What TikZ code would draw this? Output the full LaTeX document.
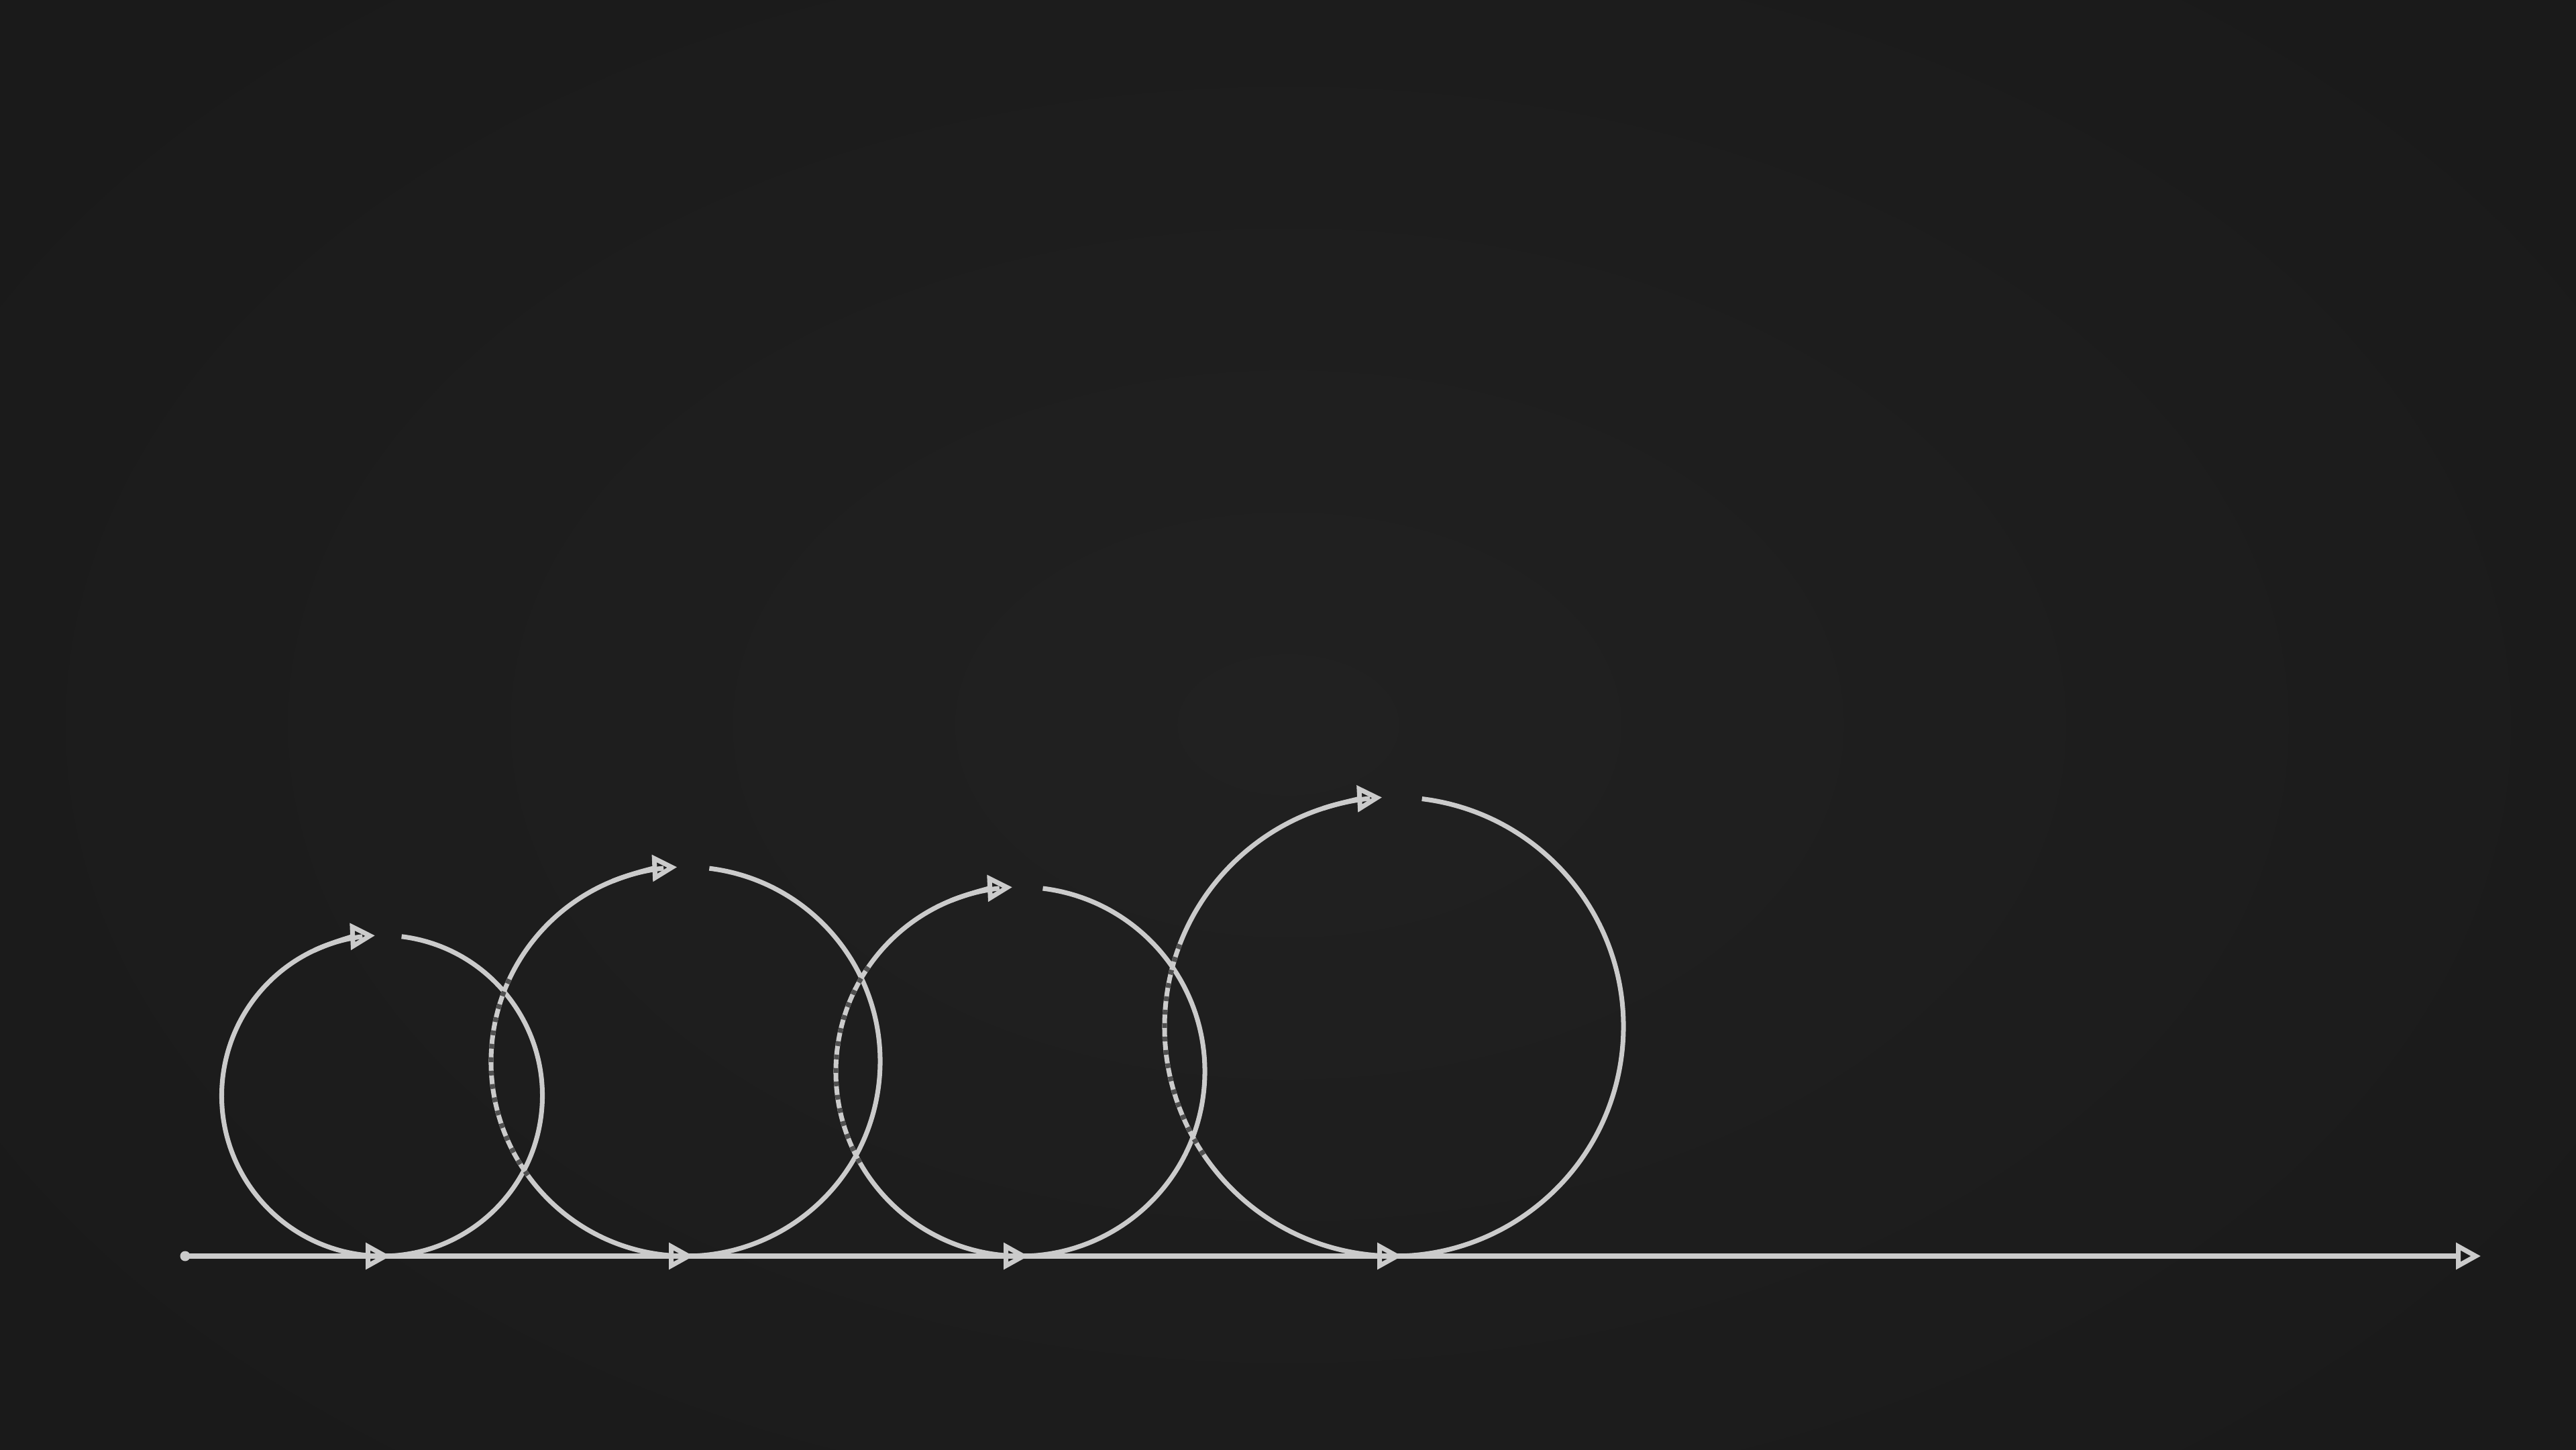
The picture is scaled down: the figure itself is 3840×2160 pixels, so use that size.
\documentclass[tikz,border=0pt]{standalone}
\usetikzlibrary{arrows.meta}
\definecolor{bgc}{HTML}{1D1D1D}
\definecolor{bgin}{HTML}{212121}
\definecolor{bgout}{HTML}{1A1A1A}
\definecolor{linec}{HTML}{CBCBCB}
\definecolor{dashc}{HTML}{505050}
\begin{document}
\begin{tikzpicture}[x=0.01cm,y=0.01cm,
  ring/.style={draw=linec, line width=2pt},
  tipstyle/.style={draw=linec, line width=2pt, -{Triangle[open,length=10.5pt,width=11pt]}},
  dashover/.style={draw=dashc, line width=2pt, dash pattern=on 2pt off 3.7pt},
]
\useasboundingbox (0,0) rectangle (3840,2160);
\fill[bgc] (0,0) rectangle (3840,2160);
\shade[inner color=bgin, outer color=bgout] (-400,-400) rectangle (4240,2560);

% centres
\coordinate (o1) at (569.5,527);
\coordinate (o2) at (1022,578);
\coordinate (o3) at (1521,563);
\coordinate (o4) at (2078,630);

% baseline
\coordinate (s) at (276,288);
\coordinate (e) at (3698,288);
\coordinate (t1) at (582,288);
\coordinate (t2) at (1034,288);
\coordinate (t3) at (1533,288);
\coordinate (t4) at (2090,288);
\coordinate (b1) at (530,288);
\coordinate (b2) at (982,288);
\coordinate (b3) at (1481,288);
\coordinate (b4) at (2038,288);

% circles
\draw[ring] (o1) ++(83:239) arc[start angle=83, end angle=-263, radius=239];
\draw[tipstyle] (o1) ++(-245:239) arc[start angle=-245, end angle=-267.5, radius=239];

\draw[ring] (o2) ++(83:290) arc[start angle=83, end angle=-263.5, radius=290];
\draw[tipstyle] (o2) ++(-248:290) arc[start angle=-248, end angle=-267.5, radius=290];

\draw[ring] (o3) ++(83:275) arc[start angle=83, end angle=-263.5, radius=275];
\draw[tipstyle] (o3) ++(-248:275) arc[start angle=-248, end angle=-267.5, radius=275];

\draw[ring] (o4) ++(83:342) arc[start angle=83, end angle=-264, radius=342];
\draw[tipstyle] (o4) ++(-252:342) arc[start angle=-252, end angle=-267, radius=342];

% baseline and its arrows
\draw[tipstyle] (s) -- (e);
\fill[linec] (s) circle[radius=7.5];
\draw[tipstyle] (b1) -- (t1);
\draw[tipstyle] (b2) -- (t2);
\draw[tipstyle] (b3) -- (t3);
\draw[tipstyle] (b4) -- (t4);

% dashed overlaps
\draw[dashover] (o2) ++(155:290) arc[start angle=155, end angle=218, radius=290];
\draw[dashover] (o3) ++(145.5:275) arc[start angle=145.5, end angle=211, radius=275];
\draw[dashover] (o4) ++(159:342) arc[start angle=159, end angle=214.5, radius=342];
\end{tikzpicture}
\end{document}
